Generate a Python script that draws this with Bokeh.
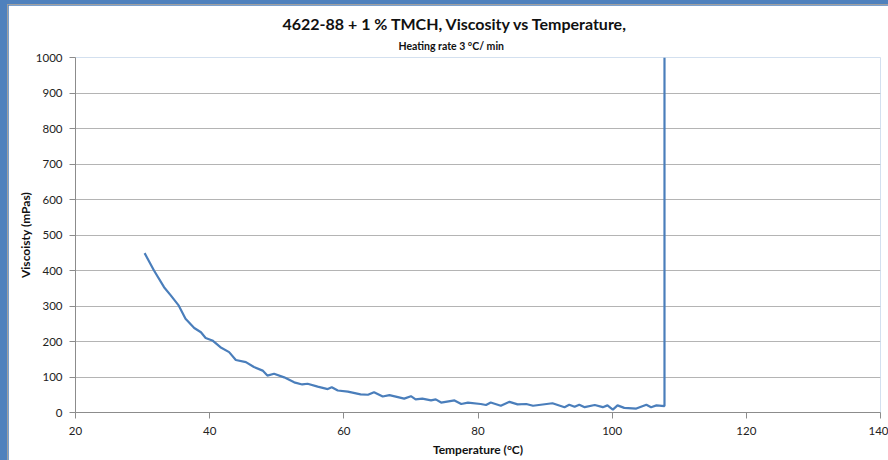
from bokeh.plotting import figure
from bokeh.layouts import column
from bokeh.models import FixedTicker, Range1d, Title
from bokeh.embed import file_html
from bokeh.resources import INLINE

# Heating run: temperature (°C) and measured viscosity (mPas)
temperature = [30.3, 31.7, 33.2, 34.2, 35.4, 36.4, 37.7, 38.7, 39.4, 40.4,
               41.6, 42.9, 43.9, 45.4, 46.6, 47.9, 48.6, 49.6, 51.1, 52.6,
               53.8, 54.6, 56.1, 57.6, 58.2, 59.1, 60.6, 62.5, 63.6, 64.5,
               65.8, 66.8, 69.0, 70.0, 70.7, 71.7, 73.0, 73.7, 74.5, 76.5,
               77.5, 78.5, 80.4, 81.2, 81.9, 83.4, 84.7, 85.9, 87.2, 88.2,
               91.1, 92.9, 93.6, 94.4, 95.1, 95.9, 97.4, 98.6, 99.3, 100.1,
               100.8, 101.8, 103.6, 105.1, 105.8, 106.6, 107.8, 107.8]
viscosity = [449, 400, 353, 330, 301, 264, 238, 226, 210, 203,
             184, 170, 148, 142, 128, 118, 104, 109, 99, 85,
             79, 81, 73, 66, 71, 62, 59, 51, 50, 57,
             45, 49, 39, 46, 37, 39, 34, 37, 28, 34,
             24, 28, 24, 21, 28, 19, 30, 23, 24, 19,
             26, 15, 22, 16, 22, 15, 21, 15, 20, 8,
             20, 13, 11, 22, 15, 20, 18, 1000]

x_ticks = [20, 40, 60, 80, 100, 120, 140]
y_ticks = [0, 100, 200, 300, 400, 500, 600, 700, 800, 900, 1000]

title_main = "4622-88 + 1 % TMCH, Viscosity vs Temperature,"
title_sub = "Heating rate 3 °C/ min"
x_label = "Temperature (°C)"
y_label = "Viscoisty (mPas)"

FONT = "Lato"
BLUE = "#4f81bd"
LINE = "#4a7ebb"

p = figure(width=881, height=456, output_backend="svg", toolbar_location=None,
           x_range=Range1d(20, 140), y_range=Range1d(0, 1000),
           min_border_left=67, min_border_right=9,
           min_border_top=52, min_border_bottom=49)
p.background_fill_color = "white"
p.border_fill_color = "white"
p.outline_line_color = None
p.styles = {"border-left": "1px solid #a0a0a0", "border-top": "1px solid #a0a0a0"}

p.line(temperature, viscosity, line_color=LINE, line_width=2.2)

# axes
for ax in (p.xaxis[0], p.yaxis[0]):
    ax.axis_line_color = "#8c8c8c"
    ax.major_tick_line_color = "#8c8c8c"
    ax.minor_tick_line_color = None
    ax.major_tick_out = 6
    ax.major_tick_in = 0
    ax.major_label_text_font = FONT
    ax.major_label_text_font_size = "11.5px"
    ax.major_label_text_color = "#222222"
    ax.axis_label_text_font = FONT
    ax.axis_label_text_font_size = "12px"
    ax.axis_label_text_font_style = "bold"
    ax.axis_label_text_color = "#111111"

p.xaxis.ticker = FixedTicker(ticks=x_ticks)
p.yaxis.ticker = FixedTicker(ticks=y_ticks)
p.xaxis.axis_label = x_label
p.yaxis.axis_label = y_label
p.xaxis.major_label_standoff = 8
p.xaxis.axis_label_standoff = 4
p.yaxis.major_label_standoff = 7
p.yaxis.axis_label_standoff = 0

p.xgrid.grid_line_color = None
p.ygrid.grid_line_color = "#b4b4b4"
p.ygrid.grid_line_width = 1

# two-line chart title (the first "above" panel sits nearest the frame)
p.add_layout(Title(text=title_sub, align="left", offset=323,
                   text_font=FONT, text_font_size="10.5px",
                   text_font_style="bold", text_color="#111111",
                   standoff=11), "above")
p.add_layout(Title(text=title_main, align="left", offset=207,
                   text_font=FONT, text_font_size="16px",
                   text_font_style="bold", text_color="#111111",
                   standoff=0), "above")

# blue window band along the top and left edges
page = column(p, styles={"background-color": BLUE,
                         "padding-left": "7px", "padding-top": "4px"})

open("out.html", "w").write(file_html(page, INLINE))
